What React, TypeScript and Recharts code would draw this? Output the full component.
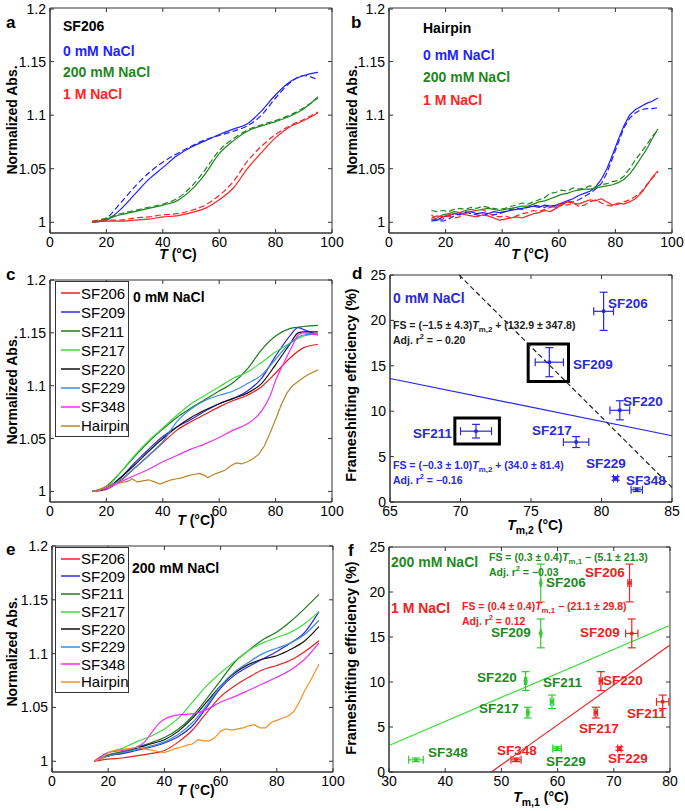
import React from 'react';
import {
  LineChart,
  Line,
  ScatterChart,
  Scatter,
  XAxis,
  YAxis,
  ErrorBar,
  ReferenceLine,
  ReferenceArea,
} from 'recharts';

type Pair = [number, number];

// ---- panel a: SF206 melting curves (solid / dashed repeats)
const A_BLUE: Pair[] = [[15, 1.0], [20, 1.002], [25, 1.012], [30, 1.026], [35, 1.04], [40, 1.051], [45, 1.062], [50, 1.07], [55, 1.076], [60, 1.082], [65, 1.087], [70, 1.092], [75, 1.104], [80, 1.119], [85, 1.131], [90, 1.137], [95, 1.14]];
const A_BLUE_D: Pair[] = [[15, 1.0], [20, 1.004], [25, 1.018], [30, 1.033], [35, 1.046], [40, 1.056], [45, 1.064], [50, 1.071], [55, 1.077], [60, 1.081], [65, 1.085], [70, 1.09], [75, 1.1], [80, 1.116], [85, 1.13], [90, 1.137], [95, 1.133]];
const A_GREEN: Pair[] = [[15, 1.0], [20, 1.003], [25, 1.007], [30, 1.01], [35, 1.013], [40, 1.016], [45, 1.02], [50, 1.03], [55, 1.045], [60, 1.064], [65, 1.076], [70, 1.085], [75, 1.09], [80, 1.094], [85, 1.099], [90, 1.106], [95, 1.117]];
const A_GREEN_D: Pair[] = [[15, 1.001], [20, 1.004], [25, 1.008], [30, 1.011], [35, 1.014], [40, 1.017], [45, 1.022], [50, 1.033], [55, 1.049], [60, 1.067], [65, 1.078], [70, 1.086], [75, 1.091], [80, 1.095], [85, 1.1], [90, 1.107], [95, 1.116]];
const A_RED: Pair[] = [[15, 1.0], [20, 1.001], [25, 1.001], [30, 1.002], [35, 1.003], [40, 1.005], [45, 1.006], [50, 1.009], [55, 1.013], [60, 1.021], [65, 1.032], [70, 1.05], [75, 1.065], [80, 1.079], [85, 1.089], [90, 1.095], [95, 1.102]];
const A_RED_D: Pair[] = [[15, 1.001], [20, 1.002], [25, 1.002], [30, 1.004], [35, 1.005], [40, 1.007], [45, 1.008], [50, 1.011], [55, 1.016], [60, 1.025], [65, 1.038], [70, 1.057], [75, 1.071], [80, 1.082], [85, 1.09], [90, 1.096], [95, 1.103]];

// ---- panel b: hairpin melting curves
const B_BLUE: Pair[] = [[15, 1.003], [17, 1.002], [19, 1.005], [21, 1.006], [23, 1.008], [25, 1.007], [27, 1.009], [29, 1.01], [31, 1.008], [33, 1.009], [35, 1.008], [37, 1.01], [39, 1.009], [41, 1.01], [43, 1.011], [45, 1.012], [47, 1.013], [49, 1.014], [51, 1.015], [53, 1.014], [55, 1.016], [57, 1.015], [59, 1.016], [61, 1.018], [63, 1.02], [65, 1.022], [67, 1.025], [69, 1.027], [71, 1.029], [73, 1.033], [75, 1.04], [77, 1.05], [79, 1.063], [81, 1.077], [83, 1.09], [85, 1.1], [87, 1.105], [89, 1.108], [91, 1.111], [93, 1.113], [95, 1.116]];
const B_BLUE_D: Pair[] = [[15, 1.001], [17, 1.002], [19, 1.001], [21, 1.003], [23, 1.006], [25, 1.008], [27, 1.01], [29, 1.008], [31, 1.007], [33, 1.006], [35, 1.008], [37, 1.007], [39, 1.008], [41, 1.01], [43, 1.012], [45, 1.013], [47, 1.012], [49, 1.014], [51, 1.016], [53, 1.015], [55, 1.014], [57, 1.016], [59, 1.014], [61, 1.017], [63, 1.019], [65, 1.019], [67, 1.021], [69, 1.024], [71, 1.027], [73, 1.031], [75, 1.036], [77, 1.046], [79, 1.06], [81, 1.074], [83, 1.088], [85, 1.097], [87, 1.102], [89, 1.105], [91, 1.106], [93, 1.106], [95, 1.107]];
const B_GREEN: Pair[] = [[15, 1.002], [17, 1.004], [19, 1.007], [21, 1.008], [23, 1.01], [25, 1.009], [27, 1.011], [29, 1.012], [31, 1.011], [33, 1.012], [35, 1.013], [37, 1.012], [39, 1.011], [41, 1.012], [43, 1.013], [45, 1.014], [47, 1.015], [49, 1.015], [51, 1.017], [53, 1.019], [55, 1.02], [57, 1.022], [59, 1.024], [61, 1.026], [63, 1.027], [65, 1.029], [67, 1.03], [69, 1.031], [71, 1.031], [73, 1.032], [75, 1.033], [77, 1.034], [79, 1.035], [81, 1.037], [83, 1.04], [85, 1.045], [87, 1.052], [89, 1.06], [91, 1.068], [93, 1.078], [95, 1.087]];
const B_GREEN_D: Pair[] = [[15, 1.011], [17, 1.01], [19, 1.011], [21, 1.01], [23, 1.012], [25, 1.013], [27, 1.012], [29, 1.014], [31, 1.013], [33, 1.015], [35, 1.014], [37, 1.013], [39, 1.012], [41, 1.013], [43, 1.015], [45, 1.016], [47, 1.018], [49, 1.017], [51, 1.019], [53, 1.021], [55, 1.023], [57, 1.027], [59, 1.028], [61, 1.03], [63, 1.029], [65, 1.032], [67, 1.031], [69, 1.032], [71, 1.034], [73, 1.033], [75, 1.035], [77, 1.036], [79, 1.038], [81, 1.039], [83, 1.043], [85, 1.05], [87, 1.058], [89, 1.065], [91, 1.072], [93, 1.08], [95, 1.086]];
const B_RED: Pair[] = [[15, 1.004], [17, 1.006], [19, 1.005], [21, 1.007], [23, 1.008], [25, 1.009], [27, 1.007], [29, 1.006], [31, 1.005], [33, 1.007], [35, 1.006], [37, 1.004], [39, 1.002], [41, 1.003], [43, 1.004], [45, 1.005], [47, 1.004], [49, 1.006], [51, 1.008], [53, 1.009], [55, 1.011], [57, 1.01], [59, 1.013], [61, 1.016], [63, 1.019], [65, 1.018], [67, 1.017], [69, 1.019], [71, 1.021], [73, 1.02], [75, 1.022], [77, 1.019], [79, 1.016], [81, 1.018], [83, 1.017], [85, 1.019], [87, 1.022], [89, 1.027], [91, 1.034], [93, 1.042], [95, 1.048]];
const B_RED_D: Pair[] = [[15, 1.007], [17, 1.002], [19, 1.003], [21, 1.006], [23, 1.004], [25, 1.005], [27, 1.008], [29, 1.01], [31, 1.011], [33, 1.012], [35, 1.009], [37, 1.006], [39, 1.005], [41, 1.006], [43, 1.004], [45, 1.006], [47, 1.008], [49, 1.009], [51, 1.011], [53, 1.01], [55, 1.012], [57, 1.014], [59, 1.015], [61, 1.017], [63, 1.016], [65, 1.018], [67, 1.015], [69, 1.016], [71, 1.019], [73, 1.021], [75, 1.018], [77, 1.016], [79, 1.015], [81, 1.017], [83, 1.019], [85, 1.021], [87, 1.024], [89, 1.028], [91, 1.035], [93, 1.041], [95, 1.047]];

// ---- panel c: 0 mM NaCl
const C_SF206: Pair[] = [[15, 1.0], [20, 1.002], [25, 1.01], [30, 1.022], [35, 1.034], [40, 1.046], [45, 1.058], [50, 1.066], [55, 1.073], [60, 1.08], [65, 1.086], [70, 1.091], [75, 1.099], [80, 1.112], [85, 1.126], [90, 1.136], [95, 1.139]];
const C_SF209: Pair[] = [[15, 1.0], [20, 1.003], [25, 1.013], [30, 1.027], [35, 1.04], [40, 1.052], [45, 1.061], [50, 1.068], [55, 1.076], [60, 1.083], [65, 1.088], [70, 1.095], [75, 1.107], [80, 1.128], [85, 1.147], [88, 1.155], [90, 1.153], [95, 1.148]];
const C_SF211: Pair[] = [[15, 1.0], [20, 1.005], [25, 1.018], [30, 1.033], [35, 1.047], [40, 1.059], [45, 1.07], [50, 1.079], [55, 1.087], [60, 1.095], [65, 1.103], [70, 1.116], [75, 1.134], [80, 1.147], [85, 1.154], [90, 1.156], [95, 1.157]];
const C_SF217: Pair[] = [[15, 1.0], [20, 1.004], [25, 1.018], [30, 1.034], [35, 1.048], [40, 1.06], [45, 1.072], [50, 1.083], [55, 1.091], [60, 1.099], [65, 1.107], [70, 1.113], [75, 1.122], [80, 1.132], [85, 1.14], [90, 1.147], [95, 1.149]];
const C_SF220: Pair[] = [[15, 1.0], [20, 1.003], [25, 1.013], [30, 1.025], [35, 1.038], [40, 1.05], [45, 1.061], [50, 1.07], [55, 1.077], [60, 1.083], [65, 1.088], [70, 1.093], [75, 1.102], [80, 1.12], [85, 1.139], [88, 1.15], [90, 1.151], [95, 1.151]];
const C_SF229: Pair[] = [[15, 1.0], [20, 1.003], [25, 1.011], [30, 1.022], [35, 1.034], [40, 1.047], [45, 1.066], [50, 1.078], [55, 1.086], [60, 1.091], [65, 1.095], [70, 1.102], [75, 1.11], [80, 1.125], [85, 1.14], [90, 1.148], [95, 1.149]];
const C_SF348: Pair[] = [[15, 1.0], [20, 1.003], [25, 1.009], [30, 1.015], [35, 1.021], [40, 1.028], [45, 1.034], [50, 1.04], [55, 1.045], [60, 1.051], [65, 1.058], [70, 1.064], [75, 1.076], [78, 1.09], [80, 1.105], [83, 1.122], [86, 1.138], [88, 1.148], [90, 1.15], [95, 1.148]];
const C_HAIRPIN: Pair[] = [[15, 1.0], [18, 1.002], [20, 1.005], [22, 1.007], [25, 1.008], [28, 1.01], [29, 1.012], [31, 1.009], [33, 1.01], [35, 1.011], [37, 1.009], [39, 1.007], [41, 1.009], [43, 1.011], [45, 1.012], [47, 1.013], [49, 1.015], [51, 1.016], [53, 1.017], [55, 1.015], [56, 1.013], [58, 1.016], [60, 1.018], [62, 1.02], [64, 1.024], [66, 1.027], [68, 1.026], [70, 1.028], [72, 1.031], [74, 1.035], [76, 1.043], [78, 1.055], [80, 1.068], [82, 1.082], [84, 1.093], [86, 1.1], [88, 1.104], [90, 1.108], [92, 1.111], [95, 1.115]];

// ---- panel e: 200 mM NaCl
const E_SF206: Pair[] = [[15, 1.0], [20, 1.002], [25, 1.003], [30, 1.005], [35, 1.007], [40, 1.01], [45, 1.018], [50, 1.029], [55, 1.045], [60, 1.06], [65, 1.07], [70, 1.078], [75, 1.085], [80, 1.089], [85, 1.094], [90, 1.102], [95, 1.112]];
const E_SF209: Pair[] = [[15, 1.0], [20, 1.005], [25, 1.007], [30, 1.01], [35, 1.013], [40, 1.017], [45, 1.023], [50, 1.033], [55, 1.05], [60, 1.068], [65, 1.08], [70, 1.088], [75, 1.095], [80, 1.102], [85, 1.11], [90, 1.12], [95, 1.139]];
const E_SF211: Pair[] = [[15, 1.0], [20, 1.006], [25, 1.009], [30, 1.013], [35, 1.017], [40, 1.022], [45, 1.03], [50, 1.042], [55, 1.058], [60, 1.075], [65, 1.092], [70, 1.103], [75, 1.113], [80, 1.12], [85, 1.13], [90, 1.142], [95, 1.155]];
const E_SF217: Pair[] = [[15, 1.0], [20, 1.008], [25, 1.012], [30, 1.018], [35, 1.023], [40, 1.03], [45, 1.04], [50, 1.055], [55, 1.07], [60, 1.082], [65, 1.093], [70, 1.103], [75, 1.11], [80, 1.115], [85, 1.12], [90, 1.128], [95, 1.139]];
const E_SF220: Pair[] = [[15, 1.0], [20, 1.005], [25, 1.008], [30, 1.012], [35, 1.016], [40, 1.02], [45, 1.028], [50, 1.04], [55, 1.055], [60, 1.07], [65, 1.082], [70, 1.09], [75, 1.095], [80, 1.098], [85, 1.104], [90, 1.112], [95, 1.125]];
const E_SF229: Pair[] = [[15, 1.0], [20, 1.005], [25, 1.008], [30, 1.011], [35, 1.014], [40, 1.018], [45, 1.025], [50, 1.036], [55, 1.052], [60, 1.07], [65, 1.083], [70, 1.092], [75, 1.1], [80, 1.105], [85, 1.11], [90, 1.118], [95, 1.131]];
const E_SF348: Pair[] = [[15, 1.0], [20, 1.008], [25, 1.01], [30, 1.013], [33, 1.018], [35, 1.025], [38, 1.035], [40, 1.039], [45, 1.043], [50, 1.044], [55, 1.048], [60, 1.055], [65, 1.06], [70, 1.066], [75, 1.072], [80, 1.078], [85, 1.085], [90, 1.095], [95, 1.11]];
const E_HAIRPIN: Pair[] = [[15, 1.0], [18, 1.003], [20, 1.008], [22, 1.01], [25, 1.011], [28, 1.012], [30, 1.013], [32, 1.012], [34, 1.011], [36, 1.01], [38, 1.009], [40, 1.008], [42, 1.01], [44, 1.012], [46, 1.013], [48, 1.015], [50, 1.016], [52, 1.02], [54, 1.019], [56, 1.019], [58, 1.022], [60, 1.028], [62, 1.03], [64, 1.029], [66, 1.03], [68, 1.031], [70, 1.033], [72, 1.034], [74, 1.031], [76, 1.031], [78, 1.036], [80, 1.038], [82, 1.04], [84, 1.042], [86, 1.046], [88, 1.055], [90, 1.066], [92, 1.075], [94, 1.085], [95, 1.09]];

// ---- panels d / f: frameshifting efficiency vs Tm
const CONSTRUCTS = ['SF206', 'SF209', 'SF220', 'SF211', 'SF217', 'SF229', 'SF348'];
const FS = [21.0, 15.4, 10.1, 7.8, 6.6, 2.6, 1.35];
const FS_ERR = [2.1, 1.6, 1.05, 0.75, 0.6, 0.2, 0.2];
const TM2_0MM = [80.15, 76.3, 81.3, 71.1, 78.2, 81.0, 82.5];
const TM2_0MM_ERR = [0.7, 1.0, 0.7, 1.1, 0.9, 0.15, 0.4];
const TM1_200MM = [57.0, 57.0, 54.3, 59.0, 54.7, 59.9, 34.8];
const TM1_200MM_ERR = [0.1, 0.1, 0.2, 0.3, 0.2, 0.75, 1.3];
const TM1_1M = [72.8, 73.2, 67.7, 78.7, 66.8, 71.0, 52.6];
const TM1_1M_ERR = [0.3, 1.1, 0.3, 1.1, 0.3, 0.3, 0.9];

// fitted lines (end points)
const FIT_D_BLUE = [{ x: 65, y: 13.6 }, { x: 85, y: 7.3 }];
const FIT_D_BLACK = [{ x: 69.9, y: 25 }, { x: 85, y: 1.6 }];
const FIT_F_200MM = [{ x: 30, y: 2.95 }, { x: 80, y: 16.3 }];
const FIT_F_1M = [{ x: 48.2, y: 0 }, { x: 80, y: 14.1 }];

const T_TICKS = [0, 20, 40, 60, 80, 100];
const ABS_TICKS = [1, 1.05, 1.1, 1.15, 1.2];
const FS_TICKS = [0, 5, 10, 15, 20, 25];
const TM2_TICKS = [65, 70, 75, 80, 85];
const TM1_TICKS = [30, 40, 50, 60, 70, 80];

const FONT = '"Liberation Sans", Arial, Helvetica, sans-serif';
const BLUE = '#1f1fff';
const GREEN = '#1e871e';
const RED = '#ff2323';
const AXIS = { stroke: '#333' };

const pts = (arr: Pair[]) => arr.map(([x, y]) => ({ x, y }));
const fsPoints = (tm: number[], tmErr: number[]) =>
  tm.map((x, i) => ({ x, y: FS[i], ex: tmErr[i], ey: FS_ERR[i] }));

interface Box { left: number; top: number; width: number; height: number; pl: number; pt: number; pr: number; pb: number }
interface Curve { data: Pair[]; color: string; dashed?: boolean; noisy?: boolean }

const BOX_A: Box = { left: 0, top: 0, width: 345, height: 262, pl: 50, pt: 8, pr: 332, pb: 233 };
const BOX_B: Box = { left: 345, top: 0, width: 340, height: 262, pl: 389, pt: 8, pr: 672, pb: 233 };
const BOX_C: Box = { left: 0, top: 268, width: 345, height: 262, pl: 50, pt: 280, pr: 332, pb: 502 };
const BOX_D: Box = { left: 345, top: 265, width: 340, height: 265, pl: 390, pt: 275, pr: 672, pb: 502 };
const BOX_E: Box = { left: 0, top: 536, width: 345, height: 262, pl: 52, pt: 546, pr: 333, pb: 772 };
const BOX_F: Box = { left: 345, top: 537, width: 340, height: 262, pl: 389, pt: 547, pr: 670, pb: 772 };

// MATLAB-style ticks: inward marks on both sides of the box plus the label
const xTick = (box: Box) => (p: any) => (
  <g>
    <line x1={p.x} x2={p.x} y1={box.pb - box.top} y2={box.pb - box.top - 4} stroke="#333" />
    <line x1={p.x} x2={p.x} y1={box.pt - box.top} y2={box.pt - box.top + 4} stroke="#333" />
    <text x={p.x} y={p.y} dy="0.71em" textAnchor="middle" fontSize={14} fill="#000">{p.payload.value}</text>
  </g>
);
const yTick = (box: Box) => (p: any) => (
  <g>
    <line x1={box.pl - box.left} x2={box.pl - box.left + 4} y1={p.y} y2={p.y} stroke="#333" />
    <line x1={box.pr - box.left} x2={box.pr - box.left - 4} y1={p.y} y2={p.y} stroke="#333" />
    <text x={p.x} y={p.y} dy="0.355em" textAnchor="end" fontSize={14} fill="#000">{p.payload.value}</text>
  </g>
);

function Txt({ x, y, size = 14, color = '#000', bold = true, children }: any) {
  return (
    <div style={{ position: 'absolute', left: x, top: y, fontSize: size, color, fontWeight: bold ? 700 : 400, lineHeight: 1, whiteSpace: 'nowrap', transform: 'translateY(-50%)' }}>
      {children}
    </div>
  );
}

function CTxt({ x, y, size = 14, rotate = false, children }: any) {
  return (
    <div style={{ position: 'absolute', left: x, top: y, fontSize: size, fontWeight: 700, lineHeight: 1, whiteSpace: 'nowrap', transform: `translate(-50%, -50%)${rotate ? ' rotate(-90deg)' : ''}` }}>
      {children}
    </div>
  );
}

function MeltChart({ box, series }: { box: Box; series: Curve[] }) {
  return (
    <div style={{ position: 'absolute', left: box.left, top: box.top }}>
      <LineChart
        width={box.width}
        height={box.height}
        margin={{ top: box.pt - box.top, right: box.left + box.width - box.pr, left: 0, bottom: 0 }}
      >
        <XAxis type="number" dataKey="x" domain={[0, 100]} ticks={T_TICKS} allowDataOverflow height={box.top + box.height - box.pb} tickLine={false} tickSize={0} tickMargin={4} tick={xTick(box)} axisLine={AXIS} />
        <YAxis type="number" domain={[0.99, 1.2]} ticks={ABS_TICKS} allowDataOverflow width={box.pl - box.left} tickLine={false} tickSize={0} tickMargin={4} tick={yTick(box)} axisLine={AXIS} />
        <ReferenceArea x1={0} x2={100} y1={0.99} y2={1.2} fill="none" stroke="#333" />
        {series.map((s, i) => (
          <Line
            key={i}
            data={pts(s.data)}
            dataKey="y"
            type={s.noisy ? 'linear' : 'monotone'}
            stroke={s.color}
            strokeWidth={1.2}
            strokeDasharray={s.dashed ? '6 3' : undefined}
            dot={false}
            isAnimationActive={false}
          />
        ))}
      </LineChart>
    </div>
  );
}

const dotShape = (color: string) => (p: any) => <circle cx={p.cx} cy={p.cy} r={2} fill={color} />;

interface Group { data: ReturnType<typeof fsPoints>; color: string }
interface Fit { seg: { x: number; y: number }[]; color: string; dashed?: boolean }

function FsChart({ box, xDomain, xTicks, groups, fits, areas = [] }: { box: Box; xDomain: [number, number]; xTicks: number[]; groups: Group[]; fits: Fit[]; areas?: number[][] }) {
  return (
    <div style={{ position: 'absolute', left: box.left, top: box.top }}>
      <ScatterChart
        width={box.width}
        height={box.height}
        margin={{ top: box.pt - box.top, right: box.left + box.width - box.pr, left: 0, bottom: 0 }}
      >
        <XAxis type="number" dataKey="x" domain={xDomain} ticks={xTicks} allowDataOverflow height={box.top + box.height - box.pb} tickLine={false} tickSize={0} tickMargin={4} tick={xTick(box)} axisLine={AXIS} />
        <YAxis type="number" dataKey="y" domain={[0, 25]} ticks={FS_TICKS} allowDataOverflow width={box.pl - box.left} tickLine={false} tickSize={0} tickMargin={4} tick={yTick(box)} axisLine={AXIS} />
        <ReferenceArea x1={xDomain[0]} x2={xDomain[1]} y1={0} y2={25} fill="none" stroke="#333" />
        {areas.map((a, i) => (
          <ReferenceArea key={i} x1={a[0]} x2={a[1]} y1={a[2]} y2={a[3]} fill="none" stroke="#000" strokeWidth={3} />
        ))}
        {fits.map((f, i) => (
          <ReferenceLine key={i} segment={f.seg} stroke={f.color} strokeWidth={1.2} strokeDasharray={f.dashed ? '5 3' : undefined} />
        ))}
        {groups.map((g, i) => (
          <Scatter key={i} data={g.data} fill={g.color} shape={dotShape(g.color)} isAnimationActive={false}>
            <ErrorBar dataKey="ex" direction="x" width={4} stroke={g.color} strokeWidth={1.2} />
            <ErrorBar dataKey="ey" direction="y" width={4} stroke={g.color} strokeWidth={1.2} />
          </Scatter>
        ))}
      </ScatterChart>
    </div>
  );
}

const LEGEND_C = [
  { name: 'SF206', color: '#e8201e', data: C_SF206 },
  { name: 'SF209', color: '#2a2ae0', data: C_SF209 },
  { name: 'SF211', color: '#1f7a1f', data: C_SF211 },
  { name: 'SF217', color: '#3ddc3d', data: C_SF217 },
  { name: 'SF220', color: '#111111', data: C_SF220 },
  { name: 'SF229', color: '#3a8ed8', data: C_SF229 },
  { name: 'SF348', color: '#f030f0', data: C_SF348 },
  { name: 'Hairpin', color: '#b8862a', data: C_HAIRPIN },
];
const LEGEND_E = [
  { name: 'SF206', color: '#e8201e', data: E_SF206 },
  { name: 'SF209', color: '#2a2ae0', data: E_SF209 },
  { name: 'SF211', color: '#1f7a1f', data: E_SF211 },
  { name: 'SF217', color: '#3ddc3d', data: E_SF217 },
  { name: 'SF220', color: '#111111', data: E_SF220 },
  { name: 'SF229', color: '#3a8ed8', data: E_SF229 },
  { name: 'SF348', color: '#f030f0', data: E_SF348 },
  { name: 'Hairpin', color: '#f39020', data: E_HAIRPIN },
];

function LegendBox({ x, y, rowH, items }: { x: number; y: number; rowH: number; items: { name: string; color: string }[] }) {
  return (
    <div style={{ position: 'absolute', left: x, top: y, width: 74, height: rowH * items.length + 5, border: '1px solid #333', background: '#fff', boxSizing: 'border-box' }}>
      {items.map((it, i) => (
        <div key={it.name} style={{ position: 'absolute', left: 5, top: 2 + i * rowH, height: rowH, display: 'flex', alignItems: 'center', fontSize: 15, lineHeight: 1 }}>
          <svg width={19} height={4} style={{ marginRight: 1 }}>
            <line x1={0} x2={19} y1={2} y2={2} stroke={it.color} strokeWidth={1.5} />
          </svg>
          {it.name}
        </div>
      ))}
    </div>
  );
}

const Tm = ({ sub }: { sub: string }) => (
  <span><i>T</i><sub style={{ fontSize: '0.75em' }}>{sub}</sub></span>
);

const LABELS_D = [
  [608, 304], [573, 365], [623, 402], [413, 434], [532, 431], [586, 464], [626, 481],
];
const LABELS_F_200 = [
  [546, 583], [491, 633], [477, 678], [543, 683], [479, 709], [546, 762], [428, 753],
];
const LABELS_F_1M = [
  [585, 573], [580, 633], [603, 681], [627, 714], [579, 729], [608, 759], [497, 751],
];

export default function App() {
  return (
    <div style={{ position: 'absolute', left: 0, top: 0, width: 685, height: 811, background: '#fff', fontFamily: FONT, color: '#000', overflow: 'hidden' }}>
      <MeltChart
        box={BOX_A}
        series={[
          { data: A_BLUE, color: BLUE }, { data: A_BLUE_D, color: BLUE, dashed: true },
          { data: A_GREEN, color: GREEN }, { data: A_GREEN_D, color: GREEN, dashed: true },
          { data: A_RED, color: RED }, { data: A_RED_D, color: RED, dashed: true },
        ]}
      />
      <MeltChart
        box={BOX_B}
        series={[
          { data: B_BLUE, color: BLUE, noisy: true }, { data: B_BLUE_D, color: BLUE, dashed: true, noisy: true },
          { data: B_GREEN, color: GREEN, noisy: true }, { data: B_GREEN_D, color: GREEN, dashed: true, noisy: true },
          { data: B_RED, color: RED, noisy: true }, { data: B_RED_D, color: RED, dashed: true, noisy: true },
        ]}
      />
      <MeltChart box={BOX_C} series={LEGEND_C.map((l) => ({ data: l.data, color: l.color, noisy: l.name === 'Hairpin' }))} />
      <MeltChart box={BOX_E} series={LEGEND_E.map((l) => ({ data: l.data, color: l.color, noisy: l.name === 'Hairpin' }))} />
      <FsChart
        box={BOX_D}
        xDomain={[65, 85]}
        xTicks={TM2_TICKS}
        groups={[{ data: fsPoints(TM2_0MM, TM2_0MM_ERR), color: '#2a2ad8' }]}
        fits={[{ seg: FIT_D_BLUE, color: '#2222ee' }, { seg: FIT_D_BLACK, color: '#222', dashed: true }]}
        areas={[[74.8, 77.66, 13.27, 17.4], [69.6, 72.76, 6.38, 9.24]]}
      />
      <FsChart
        box={BOX_F}
        xDomain={[30, 80]}
        xTicks={TM1_TICKS}
        groups={[
          { data: fsPoints(TM1_200MM, TM1_200MM_ERR), color: '#33cc33' },
          { data: fsPoints(TM1_1M, TM1_1M_ERR), color: '#ee2222' },
        ]}
        fits={[{ seg: FIT_F_200MM, color: '#33dd33' }, { seg: FIT_F_1M, color: '#ee2222' }]}
      />

      {/* panel letters */}
      <Txt x={6} y={22} size={17}>a</Txt>
      <Txt x={351} y={22} size={17}>b</Txt>
      <Txt x={6} y={274} size={17}>c</Txt>
      <Txt x={352} y={273} size={17}>d</Txt>
      <Txt x={6} y={549} size={17}>e</Txt>
      <Txt x={348} y={550} size={17}>f</Txt>

      {/* axis titles */}
      <CTxt x={12} y={120} rotate>Normalized Abs.</CTxt>
      <CTxt x={352} y={120} rotate>Normalized Abs.</CTxt>
      <CTxt x={12} y={390} rotate>Normalized Abs.</CTxt>
      <CTxt x={12} y={652} rotate>Normalized Abs.</CTxt>
      <CTxt x={351} y={385} rotate size={14.5}>Frameshifting efficiency (%)</CTxt>
      <CTxt x={351} y={658} rotate size={14.5}>Frameshifting efficiency (%)</CTxt>
      <CTxt x={178} y={254}><i>T</i> (°C)</CTxt>
      <CTxt x={530} y={254}><i>T</i> (°C)</CTxt>
      <CTxt x={196} y={520}><i>T</i> (°C)</CTxt>
      <CTxt x={535} y={527}><Tm sub="m,2" /> (°C)</CTxt>
      <CTxt x={196} y={790}><i>T</i> (°C)</CTxt>
      <CTxt x={541} y={799}><Tm sub="m,1" /> (°C)</CTxt>

      {/* panel a / b annotations */}
      <Txt x={63} y={26}>SF206</Txt>
      <Txt x={63} y={51} color={BLUE}>0 mM NaCl</Txt>
      <Txt x={63} y={72} color={GREEN}>200 mM NaCl</Txt>
      <Txt x={63} y={94} color={RED}>1 M NaCl</Txt>
      <Txt x={423} y={28}>Hairpin</Txt>
      <Txt x={423} y={55} color={BLUE}>0 mM NaCl</Txt>
      <Txt x={423} y={77} color={GREEN}>200 mM NaCl</Txt>
      <Txt x={423} y={100} color={RED}>1 M NaCl</Txt>

      {/* panel c / e legends */}
      <LegendBox x={55} y={281} rowH={18.9} items={LEGEND_C} />
      <Txt x={133} y={297}>0 mM NaCl</Txt>
      <LegendBox x={55} y={547} rowH={17.6} items={LEGEND_E} />
      <Txt x={132} y={568}>200 mM NaCl</Txt>

      {/* panel d annotations */}
      <Txt x={393} y={298} color="#2a2ad8">0 mM NaCl</Txt>
      <Txt x={393} y={327} size={10.5} color="#222">FS = (−1.5 ± 4.3)<Tm sub="m,2" /> + (132.9 ± 347.8)</Txt>
      <Txt x={393} y={339} size={10.5} color="#222">Adj. r<sup style={{ fontSize: '0.7em' }}>2</sup> = − 0.20</Txt>
      <Txt x={393} y={467} size={10.5} color="#2a2ad8">FS = (−0.3 ± 1.0)<Tm sub="m,2" /> + (34.0 ± 81.4)</Txt>
      <Txt x={393} y={479} size={10.5} color="#2a2ad8">Adj. r<sup style={{ fontSize: '0.7em' }}>2</sup> = −0.16</Txt>
      {CONSTRUCTS.map((n, i) => (
        <Txt key={'d' + n} x={LABELS_D[i][0]} y={LABELS_D[i][1]} size={13.5} color="#2a2ad8">{n}</Txt>
      ))}

      {/* panel f annotations */}
      <Txt x={391} y={562} color="#1e8a1e">200 mM NaCl</Txt>
      <Txt x={391} y={608} color="#ee2222">1 M NaCl</Txt>
      <Txt x={489} y={559} size={10.5} color="#1e8a1e">FS = (0.3 ± 0.4)<Tm sub="m,1" /> − (5.1 ± 21.3)</Txt>
      <Txt x={489} y={571} size={10.5} color="#1e8a1e">Adj. r<sup style={{ fontSize: '0.7em' }}>2</sup> = −0.03</Txt>
      <Txt x={462} y={608} size={10.5} color="#ee2222">FS = (0.4 ± 0.4)<Tm sub="m,1" /> − (21.1 ± 29.8)</Txt>
      <Txt x={462} y={620} size={10.5} color="#ee2222">Adj. r<sup style={{ fontSize: '0.7em' }}>2</sup> = 0.12</Txt>
      {CONSTRUCTS.map((n, i) => (
        <Txt key={'g' + n} x={LABELS_F_200[i][0]} y={LABELS_F_200[i][1]} size={13.5} color="#1e8a1e">{n}</Txt>
      ))}
      {CONSTRUCTS.map((n, i) => (
        <Txt key={'r' + n} x={LABELS_F_1M[i][0]} y={LABELS_F_1M[i][1]} size={13.5} color="#ee2222">{n}</Txt>
      ))}
    </div>
  );
}
